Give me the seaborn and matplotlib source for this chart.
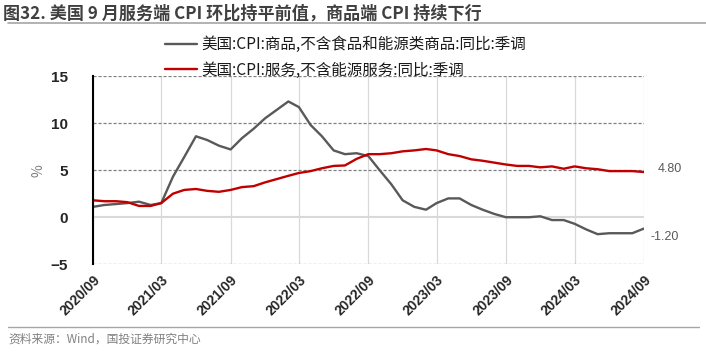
import pandas as pd
import numpy as np
import seaborn as sns
import matplotlib.pyplot as plt
import matplotlib.dates as mdates
from matplotlib.lines import Line2D

# 数据 (2020/09 - 2024/09, 月度)
months = pd.date_range('2020-09-01', '2024-09-01', freq='MS')
core_goods = [1.1, 1.3, 1.4, 1.5, 1.65, 1.3, 1.5, 4.3, 6.4, 8.6, 8.2, 7.6, 7.2, 8.4, 9.4,
              10.5, 11.4, 12.3, 11.7, 9.8, 8.6, 7.1, 6.7, 6.8, 6.5, 5.0, 3.5, 1.8, 1.1, 0.8,
              1.5, 2.0, 2.0, 1.3, 0.8, 0.35, 0.0, 0.0, 0.0, 0.1, -0.3, -0.3, -0.7, -1.3,
              -1.8, -1.7, -1.7, -1.7, -1.2]
services = [1.8, 1.7, 1.7, 1.6, 1.2, 1.2, 1.5, 2.5, 2.9, 3.0, 2.8, 2.7, 2.9, 3.2, 3.3,
            3.7, 4.05, 4.4, 4.7, 4.9, 5.2, 5.45, 5.5, 6.2, 6.7, 6.7, 6.8, 7.0, 7.1, 7.25,
            7.1, 6.7, 6.5, 6.15, 6.0, 5.8, 5.6, 5.45, 5.45, 5.3, 5.4, 5.15, 5.4, 5.2, 5.1,
            4.9, 4.9, 4.9, 4.8]
series_names = ['美国:CPI:商品,不含食品和能源类商品:同比:季调',
                '美国:CPI:服务,不含能源服务:同比:季调']
tick_dates = pd.date_range('2020-09-01', '2024-09-01', freq='6MS')

df = pd.DataFrame({'date': months, series_names[0]: core_goods, series_names[1]: services})
df_long = df.melt(id_vars='date', var_name='series', value_name='value')

sns.set_theme(style='white')
plt.rcParams['font.family'] = ['Noto Sans CJK SC', 'DejaVu Sans']
plt.rcParams['axes.unicode_minus'] = True

fig = plt.figure(figsize=(7.06, 3.57), dpi=100)
ax = fig.add_axes([0.1317, 0.2597, 0.7805, 0.5273])

palette = {series_names[0]: '#595959', series_names[1]: '#C00000'}
sns.lineplot(data=df_long, x='date', y='value', hue='series', palette=palette,
             linewidth=1.7, ax=ax, legend=False)

# 网格
for d in tick_dates:
    ax.axvline(d, color='#d9d9d9', lw=0.9, zorder=0)
for yv in [-5, 5, 10, 15]:
    ax.axhline(yv, color='#808080', lw=0.9, ls=(0, (2.5, 1.5)), zorder=0)
ax.axhline(0, color='#d9d9d9', lw=1.5, zorder=0)

ax.set_xlim(months[0], months[-1])
ax.set_ylim(-5, 15)
ax.set_yticks([-5, 0, 5, 10, 15])
ax.set_xticks(tick_dates)
ax.xaxis.set_major_formatter(mdates.DateFormatter('%Y/%m'))
for lab in ax.get_xticklabels():
    lab.set_rotation(45)
    lab.set_ha('right')
    lab.set_rotation_mode('anchor')
    lab.set_fontfamily('Liberation Sans')
    lab.set_fontweight('bold')
    lab.set_fontsize(10)
for lab in ax.get_yticklabels():
    lab.set_fontfamily('Liberation Sans')
    lab.set_fontweight('bold')
    lab.set_fontsize(11)
ax.tick_params(axis='x', length=0, pad=6)
ax.tick_params(axis='y', direction='in', length=3, width=1.2, color='black', pad=18)

for s in ['top', 'right', 'bottom']:
    ax.spines[s].set_visible(False)
ax.spines['left'].set_color('black')
ax.spines['left'].set_linewidth(1.5)

ax.set_xlabel('')
ax.set_ylabel('%', color='#808080', fontsize=10, labelpad=4)

# 末值标注
ax.annotate(f'{services[-1]:.2f}', xy=(months[-1], services[-1]), xytext=(10, 2),
            textcoords='offset points', va='center', ha='left', color='#595959',
            fontsize=9, fontfamily='Liberation Sans')
ax.annotate(f'{core_goods[-1]:.2f}', xy=(months[-1], core_goods[-1]), xytext=(5, -6),
            textcoords='offset points', va='center', ha='left', color='#595959',
            fontsize=9, fontfamily='Liberation Sans')

# 图例
handles = [Line2D([0], [0], color=palette[n], lw=1.7) for n in series_names]
leg = fig.legend(handles, series_names, loc='upper left', bbox_to_anchor=(0.222, 0.92),
                 frameon=False, prop={'size': 11.2, 'weight': 'medium'}, handlelength=2.1,
                 handletextpad=0.3, labelspacing=0.55, borderpad=0)
for t in leg.get_texts():
    t.set_color('#1a1a1a')

# 标题与来源
fig.text(0.004, 0.988, '图32. 美国 9 月服务端 CPI 环比持平前值，商品端 CPI 持续下行',
         fontsize=12.3, fontweight='bold', color='#404040', va='top', ha='left')
fig.add_artist(Line2D([0.012, 1.0], [0.936, 0.936], color='#a6a6a6', lw=1.2))
fig.add_artist(Line2D([0.012, 0.99], [0.084, 0.084], color='#a6a6a6', lw=1.0))
fig.text(0.012, 0.05, '资料来源：Wind，国投证券研究中心', fontsize=8.5, color='#808080',
         style='italic', va='center', ha='left')

fig.savefig('out.png', dpi=100)
